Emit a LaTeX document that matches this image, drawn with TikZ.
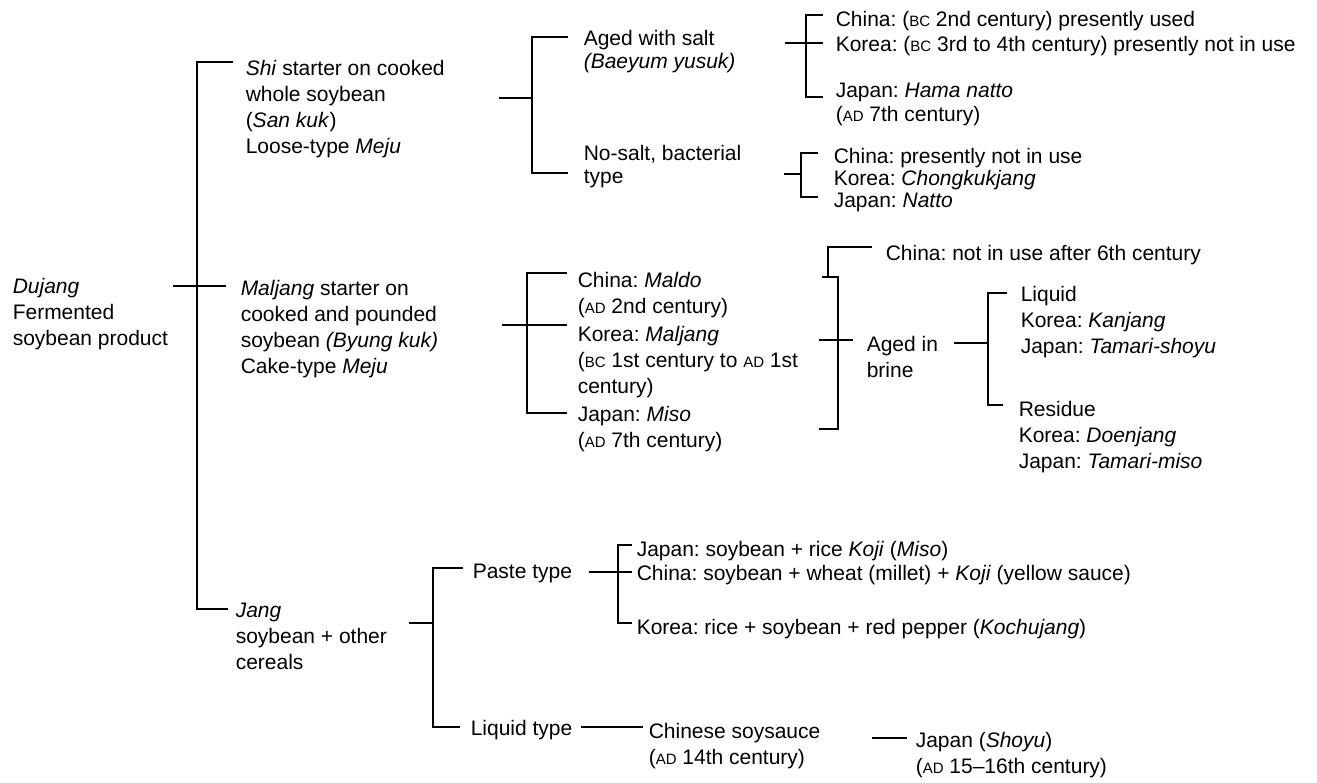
\documentclass[tikz,border=0pt]{standalone}
\usepackage{fontspec}
\setmainfont{Liberation Sans}
\usetikzlibrary{calc}
\frenchspacing
\newcommand{\era}[1]{{\fontsize{15}{15}\selectfont #1}}
\newcommand{\lbl}{\fontsize{21}{26}\selectfont}
\newcommand{\lbltight}{\fontsize{21}{23.5}\selectfont}
\tikzset{
  txt/.style={anchor=north west, inner sep=0pt, align=left, font=\lbl,
    yshift=10.5pt, execute at begin node={\rule{0pt}{18pt}}},
  tight/.style={txt, font=\lbltight},
}
\begin{document}
\begin{tikzpicture}[x=1pt, y=-1pt, line width=1.5pt]
\useasboundingbox (0,0) rectangle (1317,783);

\node [txt] (dujang) at (12,288) {\textit{Dujang}\\Fermented\\soybean product};
\node [txt] (shi) at (245,70) {\textit{Shi} starter on cooked\\whole soybean\\(\textit{San kuk})\\Loose-type \textit{Meju}};
\node [txt] (maljang) at (240,290) {\textit{Maljang} starter on\\cooked and pounded\\soybean \textit{(Byung kuk)}\\Cake-type \textit{Meju}};
\node [txt] (jang) at (235,613) {\textit{Jang}\\soybean + other\\cereals};

\node [tight] (agedsalt) at (583,40) {Aged with salt\\\textit{(Baeyum yusuk)}};
\node [tight] (nosalt) at (583,155) {No-salt, bacterial\\type};
\node [txt] (chinaA) at (835,18) {China: (\era{BC} 2nd century) presently used};
\node [txt] (koreaA) at (835,43) {Korea: (\era{BC} 3rd to 4th century) presently not in use};
\node [tight] (japanA) at (835,93) {Japan: \textit{Hama natto}\\(\era{AD} 7th century)};
\node [txt] (chinaB) at (833,155) {China: presently not in use};
\node [txt] (koreaB) at (833,177) {Korea: \textit{Chongkukjang}};
\node [txt] (japanB) at (833,199) {Japan: \textit{Natto}};

\node [txt] (maldo) at (577,282) {China: \textit{Maldo}\\(\era{AD} 2nd century)};
\node [txt] (koreaM) at (577,336) {Korea: \textit{Maljang}\\(\era{BC} 1st century to \era{AD} 1st\\century)};
\node [txt] (miso) at (577,416) {Japan: \textit{Miso}\\(\era{AD} 7th century)};
\node [txt] (chinaC) at (885,252) {China: not in use after 6th century};
\node [txt] (brine) at (866,346) {Aged in\\brine};
\node [txt] (liquid) at (1020,296) {Liquid\\Korea: \textit{Kanjang}\\Japan: \textit{Tamari-shoyu}};
\node [txt] (residue) at (1018,411) {Residue\\Korea: \textit{Doenjang}\\Japan: \textit{Tamari-miso}};

\node [txt] (paste) at (472,570) {Paste type};
\node [txt] (liqtype) at (470,727) {Liquid type};
\node [txt] (japanP) at (636,548) {Japan: soybean + rice \textit{Koji} (\textit{Miso})};
\node [txt] (chinaP) at (636,572) {China: soybean + wheat (millet) + \textit{Koji} (yellow sauce)};
\node [txt] (koreaP) at (636,626) {Korea: rice + soybean + red pepper (\textit{Kochujang})};
\node [txt] (soysauce) at (648,733) {Chinese soysauce\\(\era{AD} 14th century)};
\node [txt] (shoyu) at (915,742) {Japan (\textit{Shoyu})\\(\era{AD} 15--16th century)};

\coordinate (r0) at (197,62);
\coordinate (r1) at (197,286);
\coordinate (r2) at (197,609);
\draw [shorten <=12pt, shorten >=7pt] (shi.west |- r0) -- (r0) -- (r2) -- (jang.west |- r2);
\draw [shorten <=4pt, shorten >=14pt] (dujang.east |- r1) -- (maljang.west |- r1);

\coordinate (s0) at (532,37);
\coordinate (s1) at (532,98);
\coordinate (s2) at (532,173);
\draw [shorten <=15pt, shorten >=15pt] (agedsalt.west |- s0) -- (s0) -- (s2) -- (nosalt.west |- s2);
\draw [shorten <=54pt] (shi.east |- s1) -- (s1);

\coordinate (a0) at (806,15);
\coordinate (a1) at (806,43);
\coordinate (a2) at (806,97);
\draw [shorten <=12pt, shorten >=12pt] (chinaA.west |- a0) -- (a0) -- (a2) -- (japanA.west |- a2);
\draw [shorten <=49pt, shorten >=12pt] (agedsalt.east |- a1) -- (koreaA.west |- a1);

\coordinate (n0) at (801,153);
\coordinate (n1) at (801,174);
\coordinate (n2) at (801,197);
\draw [shorten <=15pt, shorten >=15pt] (chinaB.west |- n0) -- (n0) -- (n2) -- (japanB.west |- n2);
\draw [shorten <=42pt] (nosalt.east |- n1) -- (n1);

\coordinate (m0) at (527,273);
\coordinate (m1) at (527,325);
\coordinate (m2) at (527,413);
\draw [shorten <=10pt, shorten >=10pt] (maldo.west |- m0) -- (m0) -- (m2) -- (miso.west |- m2);
\draw [shorten <=63pt, shorten >=10pt] (maljang.east |- m1) -- (koreaM.west |- m1);

\coordinate (k0) at (838,277);
\coordinate (k1) at (838,340);
\coordinate (k2) at (838,429);
\coordinate (k3) at (828,247);
\draw [shorten <=23pt, shorten >=20pt] (koreaM.east |- k0) -- (k0) -- (k2) -- (koreaM.east |- k2);
\draw [shorten <=20pt, shorten >=13pt] (koreaM.east |- k1) -- (brine.west |- k1);
\draw [shorten >=13pt] (k3 |- k0) -- (k3) -- (chinaC.west |- k3);

\coordinate (q0) at (988,293);
\coordinate (q1) at (988,343);
\coordinate (q2) at (988,405);
\draw [shorten <=13pt, shorten >=15pt] (liquid.west |- q0) -- (q0) -- (q2) -- (residue.west |- q2);
\draw [shorten <=15pt] (brine.east |- q1) -- (q1);

\coordinate (j0) at (433,568);
\coordinate (j1) at (433,623);
\coordinate (j2) at (433,727);
\draw [shorten <=9pt, shorten >=10pt] (paste.west |- j0) -- (j0) -- (j2) -- (liqtype.west |- j2);
\draw [shorten <=21pt] (jang.east |- j1) -- (j1);

\coordinate (p0) at (618,545);
\coordinate (p1) at (618,572);
\coordinate (p2) at (618,623);
\draw [shorten <=4pt, shorten >=4pt] (japanP.west |- p0) -- (p0) -- (p2) -- (koreaP.west |- p2);
\draw [shorten <=16pt, shorten >=4pt] (paste.east |- p1) -- (chinaP.west |- p1);

\draw [shorten <=8pt, shorten >=5pt] (liqtype.east |- j2) -- (soysauce.west |- j2);
\coordinate (u0) at (888,738);
\draw [shorten <=51pt, shorten >=8pt] (soysauce.east |- u0) -- (shoyu.west |- u0);
\end{tikzpicture}
\end{document}
